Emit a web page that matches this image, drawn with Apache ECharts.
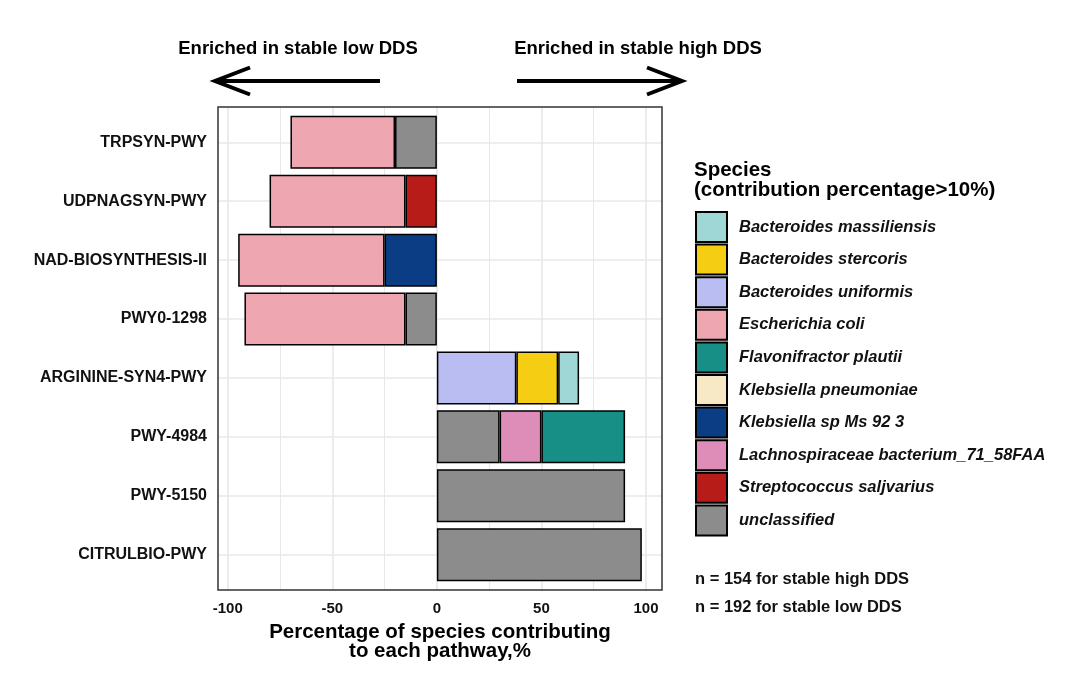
<!DOCTYPE html>
<html>
<head>
<meta charset="utf-8">
<script src="https://cdn.jsdelivr.net/npm/echarts@6/dist/echarts.min.js"></script>
<style>html,body{margin:0;padding:0;background:#fff}#c{width:1080px;height:677px}</style>
</head>
<body>
<div id="c"></div>
<script>
const categories = ['TRPSYN-PWY','UDPNAGSYN-PWY','NAD-BIOSYNTHESIS-II','PWY0-1298','ARGININE-SYN4-PWY','PWY-4984','PWY-5150','CITRULBIO-PWY'];
const species = ['Bacteroides massiliensis','Bacteroides stercoris','Bacteroides uniformis','Escherichia coli','Flavonifractor plautii','Klebsiella pneumoniae','Klebsiella sp Ms 92 3','Lachnospiraceae bacterium_71_58FAA','Streptococcus saljvarius','unclassified'];
const colors = ['#9fd6d6','#f5cd13','#babdf2','#eea6b0','#178f87','#f7e9c6','#0a3d84','#de8cb8','#b71c18','#8b8c8b'];
const massiliensis = [0,0,0,0,10,0,0,0];
const stercoris = [0,0,0,0,20,0,0,0];
const uniformis = [0,0,0,0,38,0,0,0];
const ecoli = [-50,-65,-70,-77,0,0,0,0];
const flavonifractor = [0,0,0,0,0,40,0,0];
const kpneumoniae = [0,0,0,0,0,0,0,0];
const klebsiellaSp = [0,0,-25,0,0,0,0,0];
const lachno = [0,0,0,0,0,20,0,0];
const strepto = [0,-15,0,0,0,0,0,0];
const unclassified = [-20,0,0,-15,0,30,90,98];
const xTicks = [-100,-50,0,50,100];
const xMinor = [-75,-25,25,75];
const values = [massiliensis,stercoris,uniformis,ecoli,flavonifractor,kpneumoniae,klebsiellaSp,lachno,strepto,unclassified];

const FONT = 'Liberation Sans, Arial, sans-serif';
const XMIN = -104.65, XMAX = 107.65;
// panel 218..662 x 107..590 ; discrete axis expanded by 0.6 unit each side
const PT = 107, PB = 590, unit = (PB - PT) / 8.2;
const chart = echarts.init(document.getElementById('c'));

const series = [];
const vLines = [];
xTicks.forEach(v => vLines.push({ xAxis: v, lineStyle: { width: 1.6 } }));
xMinor.forEach(v => vLines.push({ xAxis: v, lineStyle: { width: 1.0 } }));
series.push({
  type: 'line', xAxisIndex: 0, yAxisIndex: 0, data: [[0, 0.5]], showSymbol: false, symbolSize: 0,
  lineStyle: { opacity: 0 }, silent: true, legendHoverLink: false,
  markLine: { silent: true, z: 1, symbol: 'none', label: { show: false }, lineStyle: { color: '#e8e8e8', type: 'solid' }, data: vLines }
});
for (let i = species.length - 1; i >= 0; i--) {
  series.push({
    name: species[i],
    type: 'bar',
    xAxisIndex: 1, yAxisIndex: 1,
    stack: 'total',
    barWidth: '90%',
    data: values[i].map(v => v === 0 ? null : v),
    itemStyle: { color: colors[i], borderColor: '#000', borderWidth: 1.5 },
    emphasis: { disabled: true }
  });
}
series[1].markLine = {
  silent: true, z: 1, symbol: 'none', label: { show: false },
  lineStyle: { color: '#e8e8e8', type: 'solid', width: 1.6 },
  data: categories.map(c => ({ yAxis: c }))
};

chart.setOption({
  animation: false,
  grid: [
    { left: 218, right: 418, top: PT, bottom: 677 - PB, show: true, borderColor: '#333', borderWidth: 1.5, backgroundColor: 'transparent', z: 3 },
    { left: 218, right: 418, top: PT + 0.1 * unit, bottom: 677 - PB + 0.1 * unit }
  ],
  xAxis: [{
    gridIndex: 0, type: 'value', min: XMIN, max: XMAX, splitNumber: 5,
    splitLine: { show: false }, axisLine: { show: false }, axisTick: { show: false },
    axisLabel: {
      color: '#111', fontFamily: FONT, fontWeight: 'bold', fontSize: 15, margin: 11,
      showMinLabel: false, showMaxLabel: false,
      formatter: v => (xTicks.indexOf(Math.round(v)) >= 0 && Math.abs(v - Math.round(v)) < 1e-6) ? String(Math.round(v)) : ''
    },
    name: 'Percentage of species contributing\nto each pathway,%',
    nameLocation: 'middle', nameGap: 33.5,
    nameTextStyle: { color: '#000', fontFamily: FONT, fontWeight: 'bold', fontSize: 20.5, lineHeight: 18.5 }
  }, {
    gridIndex: 1, type: 'value', min: XMIN, max: XMAX, show: false, splitLine: { show: false }
  }],
  yAxis: [{
    gridIndex: 0, type: 'value', min: 0, max: 1, show: false, splitLine: { show: false }
  }, {
    gridIndex: 1, type: 'category', data: categories, inverse: true,
    axisLine: { show: false }, axisTick: { show: false }, splitLine: { show: false },
    axisLabel: { color: '#111', fontFamily: FONT, fontWeight: 'bold', fontSize: 16, margin: 11, padding: [3, 0, 0, 0] }
  }],
  legend: {
    orient: 'vertical', left: 695, top: 211, padding: 0,
    data: species,
    itemWidth: 31, itemHeight: 30, itemGap: 0.6,
    icon: 'rect',
    selectedMode: false,
    textStyle: { color: '#111', fontFamily: FONT, fontWeight: 'bold', fontStyle: 'italic', fontSize: 16.5, padding: [1,0,0,7] }
  },
  graphic: [
    { type: 'text', left: 694, top: 160, style: { text: 'Species\n(contribution percentage>10%)', fill: '#000', font: 'bold 20.5px ' + FONT, lineHeight: 19.5 } },
    { type: 'text', x: 695, y: 579, style: { text: 'n = 154 for stable high DDS', fill: '#111', font: 'bold 16.5px ' + FONT, verticalAlign: 'middle' } },
    { type: 'text', x: 695, y: 607, style: { text: 'n = 192 for stable low DDS', fill: '#111', font: 'bold 16.5px ' + FONT, verticalAlign: 'middle' } },
    { type: 'text', x: 298, y: 48.5, style: { text: 'Enriched in stable low DDS', fill: '#000', font: 'bold 18.5px ' + FONT, align: 'center', verticalAlign: 'middle' } },
    { type: 'text', x: 638, y: 48.5, style: { text: 'Enriched in stable high DDS', fill: '#000', font: 'bold 18.5px ' + FONT, align: 'center', verticalAlign: 'middle' } },
    { type: 'polyline', shape: { points: [[380,81],[216,81]] }, style: { stroke: '#000', lineWidth: 4, fill: null } },
    { type: 'polyline', shape: { points: [[250,67.5],[215,81],[250,94.5]] }, style: { stroke: '#000', lineWidth: 4, fill: null, lineJoin: 'miter' } },
    { type: 'polyline', shape: { points: [[517,81],[681,81]] }, style: { stroke: '#000', lineWidth: 4, fill: null } },
    { type: 'polyline', shape: { points: [[647,67.5],[682,81],[647,94.5]] }, style: { stroke: '#000', lineWidth: 4, fill: null, lineJoin: 'miter' } }
  ],
  series: series
});
</script>
</body>
</html>
